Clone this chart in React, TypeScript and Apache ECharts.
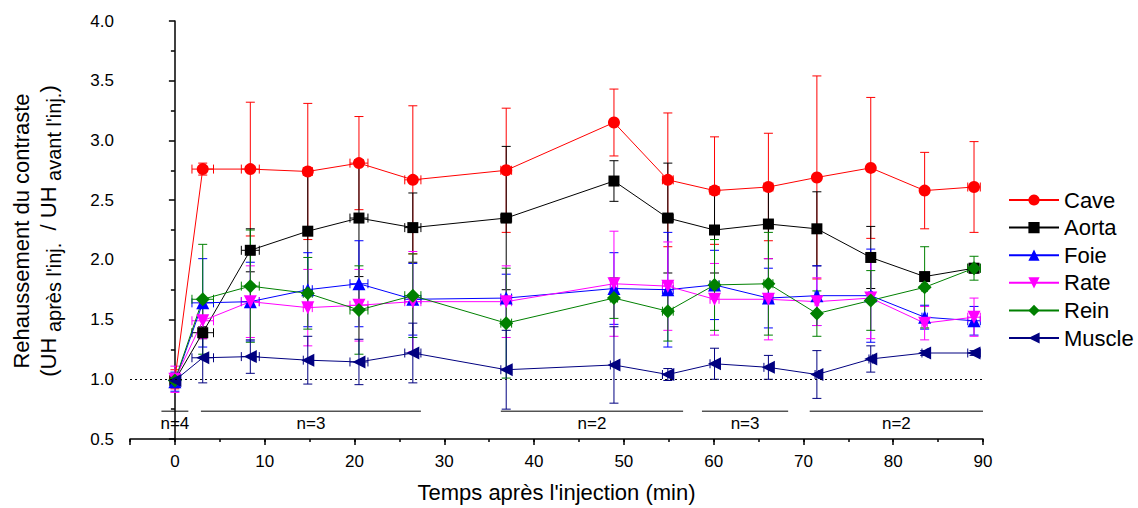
import React, { useEffect, useRef } from 'react';
import * as echarts from 'echarts';

// ---- Data ----
const times = [0, 3.1, 8.4, 14.8, 20.5, 26.5, 36.9, 48.9, 54.9, 60.1, 66.1, 71.5, 77.5, 83.5, 89.0];
const timeErr = [0.5, 1.2, 1.0, 0.5, 1.0, 0.9, 0.6, 0.4, 0.6, 0.5, 0.5, 0.2, 0.2, 0.3, 0.7];

const cave = [1.0, 2.76, 2.76, 2.74, 2.81, 2.67, 2.75, 3.15, 2.67, 2.58, 2.61, 2.69, 2.77, 2.58, 2.61];
const caveErr = [0.08, 0.05, 0.56, 0.57, 0.39, 0.62, 0.52, 0.28, 0.56, 0.45, 0.45, 0.85, 0.59, 0.32, 0.38];

const aorta = [0.99, 1.39, 2.08, 2.24, 2.35, 2.27, 2.35, 2.66, 2.35, 2.25, 2.3, 2.26, 2.02, 1.86, 1.93];
const aortaErr = [0.05, 0.05, 0.18, 0.49, 0.49, 0.29, 0.6, 0.17, 0.46, 0.36, 0.29, 0.31, 0.26, 0.03, 0.04];

const foie = [0.98, 1.64, 1.65, 1.75, 1.8, 1.67, 1.68, 1.76, 1.75, 1.79, 1.68, 1.7, 1.7, 1.52, 1.49];
const foieErr = [0.08, 0.37, 0.33, 0.31, 0.36, 0.3, 0.2, 0.3, 0.48, 0.29, 0.25, 0.25, 0.39, 0.1, 0.12];

const rate = [1.0, 1.49, 1.65, 1.6, 1.62, 1.65, 1.65, 1.8, 1.78, 1.67, 1.67, 1.65, 1.68, 1.47, 1.52];
const rateErr = [0.11, 0.15, 0.3, 0.32, 0.3, 0.42, 0.3, 0.44, 0.37, 0.3, 0.34, 0.2, 0.34, 0.14, 0.16];

const rein = [0.99, 1.67, 1.78, 1.72, 1.58, 1.7, 1.47, 1.68, 1.57, 1.79, 1.8, 1.55, 1.66, 1.77, 1.93];
const reinErr = [0.05, 0.46, 0.47, 0.3, 0.37, 0.35, 0.46, 0.17, 0.25, 0.38, 0.43, 0.19, 0.25, 0.34, 0.1];

const muscle = [0.99, 1.18, 1.19, 1.16, 1.145, 1.22, 1.08, 1.12, 1.04, 1.13, 1.1, 1.04, 1.17, 1.22, 1.22];
const muscleErr = [0.06, 0.21, 0.14, 0.2, 0.19, 0.25, 0.33, 0.32, 0.05, 0.13, 0.1, 0.2, 0.11, 0.02, 0.02];

const seriesNames = ['Cave', 'Aorta', 'Foie', 'Rate', 'Rein', 'Muscle'];
const seriesValues = [cave, aorta, foie, rate, rein, muscle];
const seriesErrors = [caveErr, aortaErr, foieErr, rateErr, reinErr, muscleErr];

// sample-size annotations
const nLabels = ['n=4', 'n=3', 'n=2', 'n=3', 'n=2'];
const nStart = [-1.5, 2.9, 36.3, 58.7, 70.7];
const nEnd = [1.5, 27.4, 56.6, 68.3, 90];
const nLineLevel = 0.733;
const nLabelLevel = 0.63;

const referenceLevel = 1.0;

// ---- Styles ----
const colors = ['#ff0000', '#000000', '#0000ff', '#ff00ff', '#008000', '#000080'];
const symbols = ['circle', 'rect', 'triangle', 'triangle', 'diamond', 'triangle'];
const symbolRotates = [0, 0, 0, 180, 0, 90];
const symbolSizes = [12, 11, 13, 13, 14, 13];
const FF = '"Liberation Sans", Arial, sans-serif';

function measure(text: string, size: number): number {
  const ctx = document.createElement('canvas').getContext('2d');
  if (!ctx) return text.length * size * 0.5;
  ctx.font = `${size}px "Liberation Sans", Arial, sans-serif`;
  return ctx.measureText(text).width;
}

export default function App() {
  const ref = useRef<HTMLDivElement>(null);

  useEffect(() => {
    document.body.style.margin = '0';
    if (!ref.current) return;
    const chart = echarts.init(ref.current, undefined, { renderer: 'svg' });

    const lineSeries = seriesNames.map((name, k) => ({
      type: 'line',
      name,
      xAxisIndex: 0,
      data: times.map((t, i) => [t, seriesValues[k][i]]),
      symbol: symbols[k],
      symbolSize: symbolSizes[k],
      symbolRotate: symbolRotates[k],
      lineStyle: { color: colors[k], width: 1 },
      itemStyle: { color: colors[k] },
      z: 4,
      silent: true,
      ...(k === 0
        ? {
            markLine: {
              silent: true,
              symbol: ['none', 'none'],
              label: { show: false },
              lineStyle: { color: '#000', type: [2, 3], width: 1 },
              data: [{ yAxis: referenceLevel }],
            },
          }
        : {}),
    }));

    const errSeries = seriesNames.map((name, k) => ({
      type: 'custom',
      name: name + ' err',
      xAxisIndex: 0,
      z: 2,
      silent: true,
      clip: false,
      encode: { x: 0, y: 1 },
      data: times.map((t, i) => [t, seriesValues[k][i], seriesErrors[k][i], timeErr[i]]),
      renderItem: (params: any, api: any) => {
        const x = api.value(0);
        const y = api.value(1);
        const e = api.value(2);
        const xe = api.value(3);
        const top = api.coord([x, y + e]);
        const bot = api.coord([x, y - e]);
        const left = api.coord([x - xe, y]);
        const right = api.coord([x + xe, y]);
        const c = 4.5;
        const st = { stroke: colors[k], lineWidth: 1 };
        return {
          type: 'group',
          children: [
            { type: 'line', shape: { x1: top[0], y1: top[1], x2: bot[0], y2: bot[1] }, style: st },
            { type: 'line', shape: { x1: top[0] - c, y1: top[1], x2: top[0] + c, y2: top[1] }, style: st },
            { type: 'line', shape: { x1: bot[0] - c, y1: bot[1], x2: bot[0] + c, y2: bot[1] }, style: st },
            { type: 'line', shape: { x1: left[0], y1: left[1], x2: right[0], y2: right[1] }, style: st },
            { type: 'line', shape: { x1: left[0], y1: left[1] - c, x2: left[0], y2: left[1] + c }, style: st },
            { type: 'line', shape: { x1: right[0], y1: right[1] - c, x2: right[0], y2: right[1] + c }, style: st },
          ],
        };
      },
    }));

    const nSeries = {
      type: 'custom',
      name: 'n',
      xAxisIndex: 0,
      silent: true,
      clip: false,
      z: 1,
      encode: { x: [0, 1] },
      data: nLabels.map((l, i) => [nStart[i], nEnd[i], i]),
      renderItem: (params: any, api: any) => {
        const s = api.value(0);
        const e = api.value(1);
        const idx = api.value(2);
        const p1 = api.coord([s, nLineLevel]);
        const p2 = api.coord([e, nLineLevel]);
        const pt = api.coord([(s + e) / 2, nLabelLevel]);
        return {
          type: 'group',
          children: [
            { type: 'line', shape: { x1: p1[0], y1: p1[1], x2: p2[0], y2: p2[1] }, style: { stroke: '#000', lineWidth: 1 } },
            {
              type: 'text',
              x: pt[0],
              y: pt[1],
              style: { text: nLabels[idx], fontSize: 17, fontFamily: FF, fill: '#000', align: 'center', verticalAlign: 'middle' },
            },
          ],
        };
      },
    };

    // Y axis title (two lines, second with subscripts)
    const fsT = 22;
    const fsS = 20;
    const pieces = [
      { t: '(UH', sub: false },
      { t: ' après l\'inj.', sub: true },
      { t: '  / UH', sub: false },
      { t: ' avant l\'inj.', sub: true },
      { t: ')', sub: false },
    ];
    const widths = pieces.map((p) => measure(p.t, p.sub ? fsS : fsT));
    const total = widths.reduce((a, b) => a + b, 0);
    let off = -total / 2;
    const line2Children = pieces.map((p, i) => {
      const el = {
        type: 'text',
        x: off,
        y: p.sub ? 6 : 0,
        style: {
          text: p.t,
          fontSize: p.sub ? fsS : fsT,
          fontFamily: FF,
          fill: '#000',
          align: 'left',
          verticalAlign: 'middle',
        },
      };
      off += widths[i];
      return el;
    });

    chart.setOption({
      animation: false,
      textStyle: { fontFamily: FF },
      grid: { left: 130, right: 155, top: 21, bottom: 68, containLabel: false },
      legend: {
        data: seriesNames,
        orient: 'vertical',
        left: 1003,
        top: 184,
        itemWidth: 50,
        itemHeight: 14,
        itemGap: 5.6,
        selectedMode: false,
        textStyle: { fontSize: 22, color: '#000', fontFamily: FF },
      },
      xAxis: [
        {
          type: 'value',
          min: -5,
          max: 90,
          splitNumber: 10,
          name: "Temps après l'injection (min)",
          nameLocation: 'middle',
          nameGap: 42,
          nameTextStyle: { fontSize: 22, color: '#000', fontFamily: FF },
          axisLine: { lineStyle: { color: '#000', width: 1.5 } },
          axisTick: { length: 6, lineStyle: { color: '#000', width: 1.5 } },
          axisLabel: {
            fontSize: 17,
            color: '#000',
            margin: 14,
            fontFamily: FF,
            formatter: (v: number) => (v < 0 ? '' : String(v)),
          },
          splitLine: { show: false },
        },
        {
          type: 'value',
          min: -5,
          max: 90,
          interval: 5,
          position: 'bottom',
          axisLine: { show: false },
          axisTick: { length: 3, lineStyle: { color: '#000', width: 1.5 } },
          axisLabel: { show: false },
          splitLine: { show: false },
        },
      ],
      yAxis: {
        type: 'value',
        min: 0.5,
        max: 4.0,
        interval: 0.5,
        axisLine: { show: true, lineStyle: { color: '#000', width: 1.5 } },
        axisTick: { show: true, length: 6, lineStyle: { color: '#000', width: 1.5 } },
        minorTick: { show: true, splitNumber: 2, length: 4, lineStyle: { color: '#000', width: 1.5 } },
        axisLabel: {
          fontSize: 17,
          color: '#000',
          margin: 16,
          fontFamily: FF,
          formatter: (v: number) => v.toFixed(1),
        },
        splitLine: { show: false },
      },
      graphic: [
        {
          type: 'text',
          x: 21,
          y: 231,
          rotation: Math.PI / 2,
          style: {
            text: 'Rehaussement du contraste',
            fontSize: fsT,
            fontFamily: FF,
            fill: '#000',
            align: 'center',
            verticalAlign: 'middle',
          },
        },
        {
          type: 'group',
          x: 48,
          y: 231,
          rotation: Math.PI / 2,
          children: line2Children,
        },
      ],
      series: [nSeries, ...errSeries, ...lineSeries],
    });

    return () => chart.dispose();
  }, []);

  return <div ref={ref} style={{ width: 1138, height: 508 }} />;
}
